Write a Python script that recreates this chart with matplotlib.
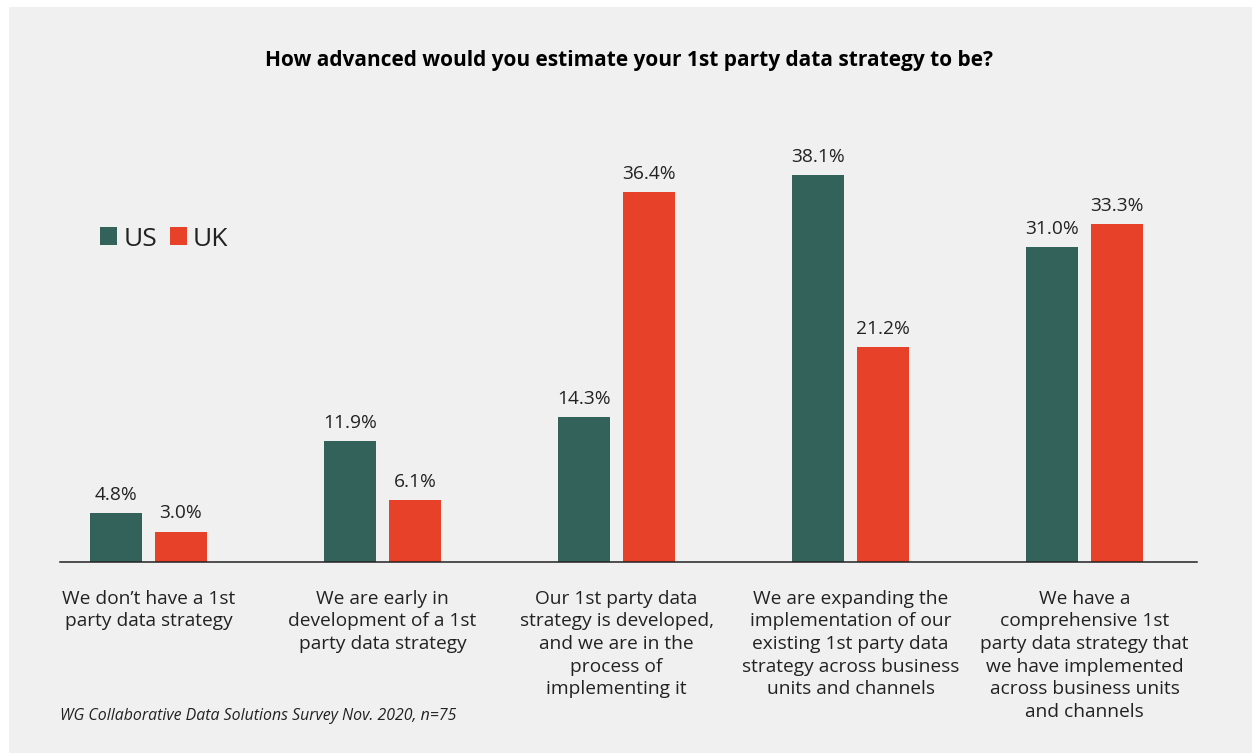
import matplotlib
matplotlib.use("Agg")
import matplotlib.pyplot as plt
from matplotlib.patches import Rectangle, Patch
import numpy as np

# Survey answers and shares per market (percent of respondents)
categories = [
    "We don\u2019t have a 1st\nparty data strategy",
    "We are early in\ndevelopment of a 1st\nparty data strategy",
    "Our 1st party data\nstrategy is developed,\nand we are in the\nprocess of\nimplementing it",
    "We are expanding the\nimplementation of our\nexisting 1st party data\nstrategy across business\nunits and channels",
    "We have a\ncomprehensive 1st\nparty data strategy that\nwe have implemented\nacross business units\nand channels",
]
us_values = [4.8, 11.9, 14.3, 38.1, 31.0]
uk_values = [3.0, 6.1, 36.4, 21.2, 33.3]
series_names = ["US", "UK"]

title = "How advanced would you estimate your 1st party data strategy to be?"
source = "WG Collaborative Data Solutions Survey Nov. 2020, n=75"

US_COLOR = "#32625A"
UK_COLOR = "#E8412A"
TEXT_COLOR = "#222222"
PANEL_COLOR = "#F0F0F0"

plt.rcParams["font.family"] = ["Open Sans", "DejaVu Sans"]

W, H = 1252, 753
fig = plt.figure(figsize=(W / 100, H / 100), dpi=100, facecolor="white")

# light grey card behind the chart, leaving a thin white edge top and left
fig.patches.append(
    Rectangle((9 / W, 0), 1 - 9 / W, 1 - 7 / H, transform=fig.transFigure,
              facecolor=PANEL_COLOR, edgecolor="none", zorder=-10)
)

ax = fig.add_axes([60 / W, (H - 562) / H, 1137 / W, 406.4 / H])
ax.patch.set_visible(False)

x = np.arange(len(categories))
bar_w = 0.222
offset = 0.139

bars_us = ax.bar(x - offset, us_values, bar_w, color=US_COLOR, label=series_names[0])
bars_uk = ax.bar(x + offset, uk_values, bar_w, color=UK_COLOR, label=series_names[1])

for bars, vals in ((bars_us, us_values), (bars_uk, uk_values)):
    for bar, v in zip(bars, vals):
        ax.annotate(f"{v:.1f}%", (bar.get_x() + bar.get_width() / 2, v),
                    xytext=(0, 9.4), textcoords="offset points",
                    ha="center", va="baseline", fontsize=13.8, color=TEXT_COLOR)

ax.set_xlim(-0.378, 4.48)
ax.set_ylim(0, 40)
ax.set_xticks(x)
ax.set_xticklabels(categories, fontsize=13.8, color=TEXT_COLOR, linespacing=1.33)
ax.tick_params(axis="x", length=0, pad=20)
ax.set_yticks([])
for side in ("top", "right", "left"):
    ax.spines[side].set_visible(False)
ax.spines["bottom"].set_color(TEXT_COLOR)
ax.spines["bottom"].set_linewidth(1.1)

fig.text(629 / W, 1 - 66 / H, title, ha="center", va="baseline",
         fontsize=15, fontweight="bold", color="black")
fig.text(60 / W, 1 - 720 / H, source, ha="left", va="baseline",
         fontsize=11.45, fontstyle="italic", color=TEXT_COLOR)

handles = [Patch(facecolor=US_COLOR), Patch(facecolor=UK_COLOR)]
fig.legend(handles, series_names, loc="center left",
           bbox_to_anchor=(87 / W, 1 - 239 / H), ncol=2, frameon=False,
           fontsize=19, handlelength=0.65, handleheight=0.65,
           handletextpad=0.22, columnspacing=0.5, borderpad=0,
           labelcolor=TEXT_COLOR)

fig.savefig("out.png", dpi=100, facecolor=fig.get_facecolor())
